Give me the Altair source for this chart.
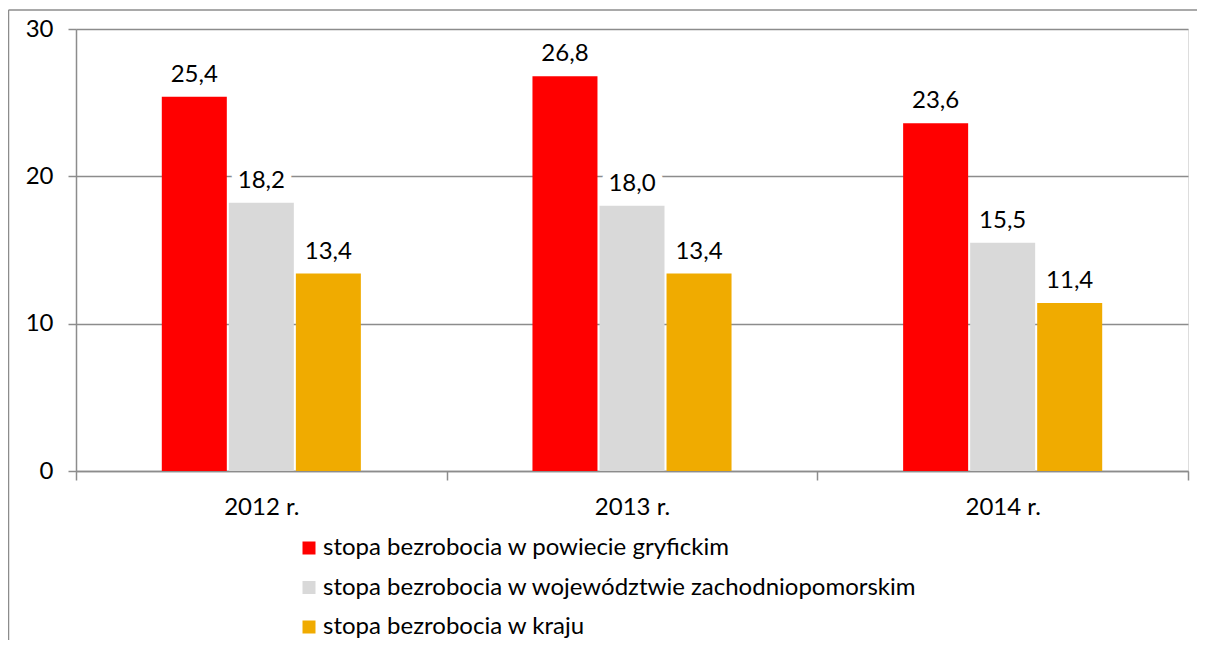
import altair as alt
import pandas as pd

years = ["2012 r.", "2013 r.", "2014 r."]
series = [
    "stopa bezrobocia w powiecie gryfickim",
    "stopa bezrobocia w województwie zachodniopomorskim",
    "stopa bezrobocia w kraju",
]
powiat = [25.4, 26.8, 23.6]
wojewodztwo = [18.2, 18.0, 15.5]
kraj = [13.4, 13.4, 11.4]
colors = ["#FF0000", "#D9D9D9", "#F0AB00"]
y_ticks = [0, 10, 20, 30]

rows = []
for i, y in enumerate(years):
    for s, vals in zip(series, [powiat, wojewodztwo, kraj]):
        v = vals[i]
        rows.append({"rok": y, "seria": s, "wartosc": v,
                     "etykieta": f"{v:.1f}".replace(".", ",")})
df = pd.DataFrame(rows)

# empty slots on both sides of each group of bars (spacing only)
offset_domain = ["_l"] + series + ["_r"]

FONT = "Lato"
FS = 24
W, H = 1112, 442
GRAY = "#8C8C8C"

x_enc = alt.X("rok:N", sort=years, title=None,
              scale=alt.Scale(paddingInner=0, paddingOuter=0),
              axis=alt.Axis(labelAngle=0, labelFontSize=FS, labelFont=FONT,
                            labelColor="#000000", labelPadding=15,
                            labelAlign="center", labelBaseline="top",
                            tickBand="extent", tickSize=9, tickColor=GRAY,
                            tickWidth=1.5, domainColor=GRAY, domainWidth=1.5))
xo_enc = alt.XOffset("seria:N",
                     scale=alt.Scale(domain=offset_domain,
                                     paddingInner=0.03, paddingOuter=0.28))
y_enc = alt.Y("wartosc:Q", title=None,
              scale=alt.Scale(domain=[0, 30], nice=False),
              axis=alt.Axis(values=y_ticks, labelFontSize=FS, labelFont=FONT,
                            labelColor="#000000", labelPadding=15,
                            tickSize=8, tickColor=GRAY, tickWidth=1.5,
                            domainColor=GRAY, domainWidth=1.5,
                            grid=True, gridColor=GRAY, gridWidth=1.5))
color = alt.Color("seria:N", sort=series,
                  scale=alt.Scale(domain=series, range=colors),
                  legend=alt.Legend(title=None, orient="none",
                                    legendX=221, legendY=507,
                                    direction="vertical",
                                    symbolType="square", symbolSize=169,
                                    symbolStrokeWidth=0,
                                    labelFontSize=FS, labelFont=FONT,
                                    labelColor="#000000", rowPadding=15.5,
                                    labelOffset=2, labelLimit=900))

halo = alt.Chart(df).mark_text(dy=-22, fontSize=FS, font=FONT,
                               color="white", stroke="white",
                               strokeWidth=16, strokeJoin="round").encode(
    x=alt.X("rok:N", sort=years), xOffset=xo_enc,
    y="wartosc:Q", text="etykieta:N")

bars = alt.Chart(df).mark_bar().encode(
    x=x_enc, xOffset=xo_enc, y=y_enc, color=color)

labels = alt.Chart(df).mark_text(dy=-22, fontSize=FS, font=FONT,
                                 color="#000000").encode(
    x=alt.X("rok:N", sort=years), xOffset=xo_enc,
    y="wartosc:Q", text="etykieta:N")

frame_df = pd.DataFrame({"k": [0]})
frame_left = alt.Chart(frame_df).mark_rule(color=GRAY, strokeWidth=1.5).encode(
    x=alt.value(-67.5), y=alt.value(-19), y2=alt.value(640))
frame_top = alt.Chart(frame_df).mark_rule(color=GRAY, strokeWidth=1.5).encode(
    x=alt.value(-67.5), x2=alt.value(1160), y=alt.value(-19))

chart = alt.layer(halo, bars, labels, frame_left, frame_top).properties(
    width=W, height=H,
    autosize=alt.AutoSizeParams(type="none"),
    padding={"left": 68, "top": 21, "right": 9, "bottom": 169},
).configure_view(stroke=None).configure(background="white")

chart.save("out.html", embed_options={"renderer": "svg", "actions": False})
